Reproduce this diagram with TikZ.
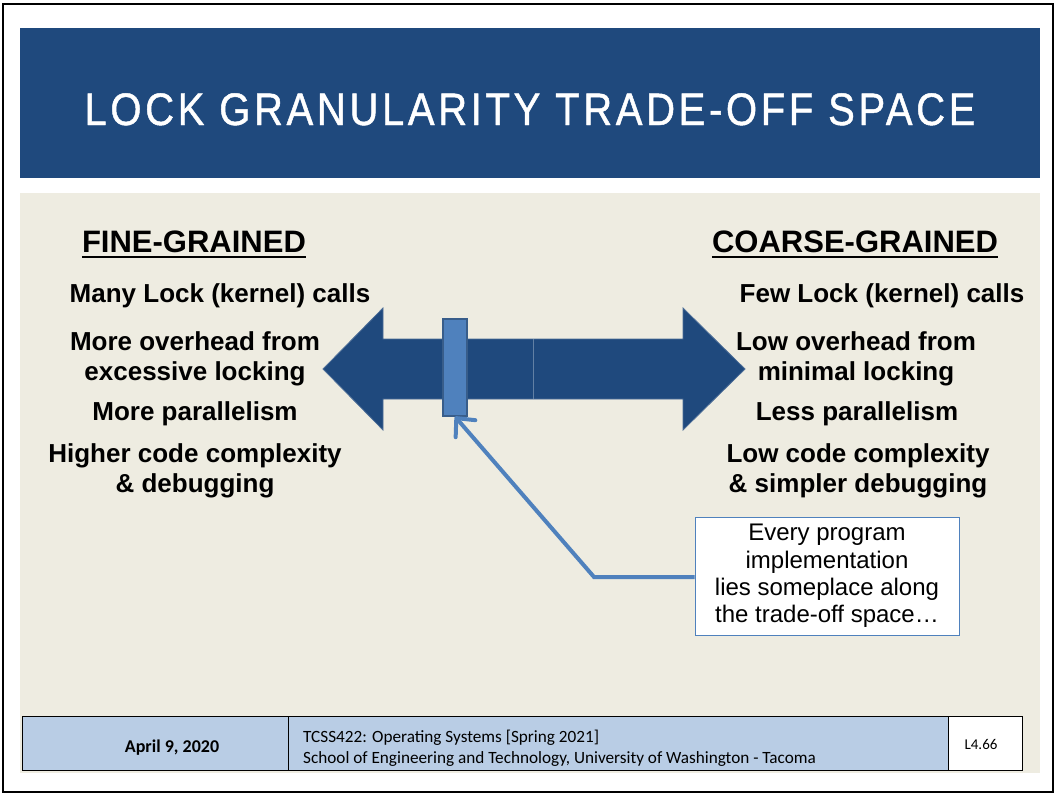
\documentclass[tikz,border=0pt]{standalone}
\usepackage{fontspec}
\setmainfont{Liberation Sans}
\newfontfamily\titlefont[FakeStretch=0.88,LetterSpace=8,FakeBold=1]{Liberation Sans}
\newfontfamily\footfont{Carlito}
\usetikzlibrary{arrows.meta}
\definecolor{navy}{RGB}{31,73,125}
\definecolor{beige}{RGB}{238,236,225}
\definecolor{accent}{RGB}{79,129,189}
\definecolor{accentdark}{RGB}{56,93,138}
\definecolor{footblue}{RGB}{185,205,229}
\tikzset{
  heading/.style={font=\bfseries\fontsize{31}{36}\selectfont, inner sep=0pt, anchor=base},
  % multi-line nodes: the base anchor sits on the last line
  point/.style={font=\bfseries\fontsize{26}{30}\selectfont, align=center, inner sep=0pt, anchor=base},
  callout/.style={draw=accent, line width=1pt, fill=white, align=center, inner sep=0pt,
    font=\fontsize{24}{27.3}\selectfont, minimum width=264pt, minimum height=118pt},
  foot/.style={font=\footfont\fontsize{17.2}{21}\selectfont, inner sep=0pt},
}
\begin{document}
\begin{tikzpicture}[x=1pt,y=-1pt]
\useasboundingbox (0,0) rectangle (1056,797);
% page frame
\draw[line width=1.6pt] (3,4) rectangle (1053,792);
% title band and content area
\fill[navy] (20,28) rectangle (1040,178);
\fill[beige] (20,193) rectangle (1040,773);
\node[text=white, font=\titlefont\fontsize{45.5}{50}\selectfont, inner sep=0pt, anchor=base]
  (title) at (530,125) {LOCK GRANULARITY TRADE-OFF SPACE};

% column headings
\node[heading] (fine) at (194,252) {FINE-GRAINED};
\draw[line width=2.2pt] ([yshift=-5pt]fine.base west) -- ([yshift=-5pt]fine.base east);
\node[heading] (coarse) at (855,252) {COARSE-GRAINED};
\draw[line width=2.2pt] ([yshift=-5pt]coarse.base west) -- ([yshift=-5pt]coarse.base east);

% fine-grained properties
\node[point] (f1) at (220,302) {Many Lock (kernel) calls};
\node[point] (f2) at (195,380) {More overhead from\\excessive locking};
\node[point] (f3) at (195,420) {More parallelism};
\node[point] (f4) at (195,492) {Higher code complexity\\\& debugging};

% coarse-grained properties
\node[point] (c1) at (882,302) {Few Lock (kernel) calls};
\node[point] (c2) at (856,380) {Low overhead from\\minimal locking};
\node[point] (c3) at (857,420) {Less parallelism};
\node[point] (c4) at (858,492) {Low code complexity\\\& simpler debugging};

% double-headed spectrum arrow
\filldraw[fill=navy, draw=navy!80!white, line width=0.8pt]
  (323,369) -- (383,308) -- (383,339) -- (683,339) -- (683,308) -- (745,369)
  -- (683,430) -- (683,399) -- (383,399) -- (383,430) -- cycle;
\draw[navy!70!white, line width=0.8pt] (533,339) -- (533,399);

% position marker
\node[draw=accentdark, fill=accent, line width=1.2pt, minimum width=24pt, minimum height=97pt,
  inner sep=0pt] (marker) at (455,367.5) {};

% explanation box and its pointer
\node[callout] (note) at (827,576) {Every program\\implementation\\lies someplace along\\the trade-off space\ldots};
\coordinate (bend) at (594,577);
\draw[accent, line width=4pt,
  -{Straight Barb[length=14pt, width=26pt, line width=4pt, round]}]
  (note.west |- bend) -- (bend) -- (marker.south);

% footer table
\draw[fill=footblue, line width=0.8pt] (22,716) rectangle (948,770);
\draw[fill=white, line width=0.8pt] (948,716) rectangle (1022,770);
\draw[line width=0.8pt] (288,716) -- (288,770);
\node[foot, font=\footfont\bfseries\fontsize{18}{22}\selectfont, anchor=base] (date) at (172,752) {April 9, 2020};
\node[foot, anchor=base west] (course) at (303,742) {TCSS422: Operating Systems [Spring 2021]};
\node[foot, anchor=base west] (school) at (303,763) {School of Engineering and Technology, University of Washington - Tacoma};
\node[foot, font=\footfont\fontsize{15}{18}\selectfont, anchor=base] (slide) at (981,749) {L4.66};
\end{tikzpicture}
\end{document}
